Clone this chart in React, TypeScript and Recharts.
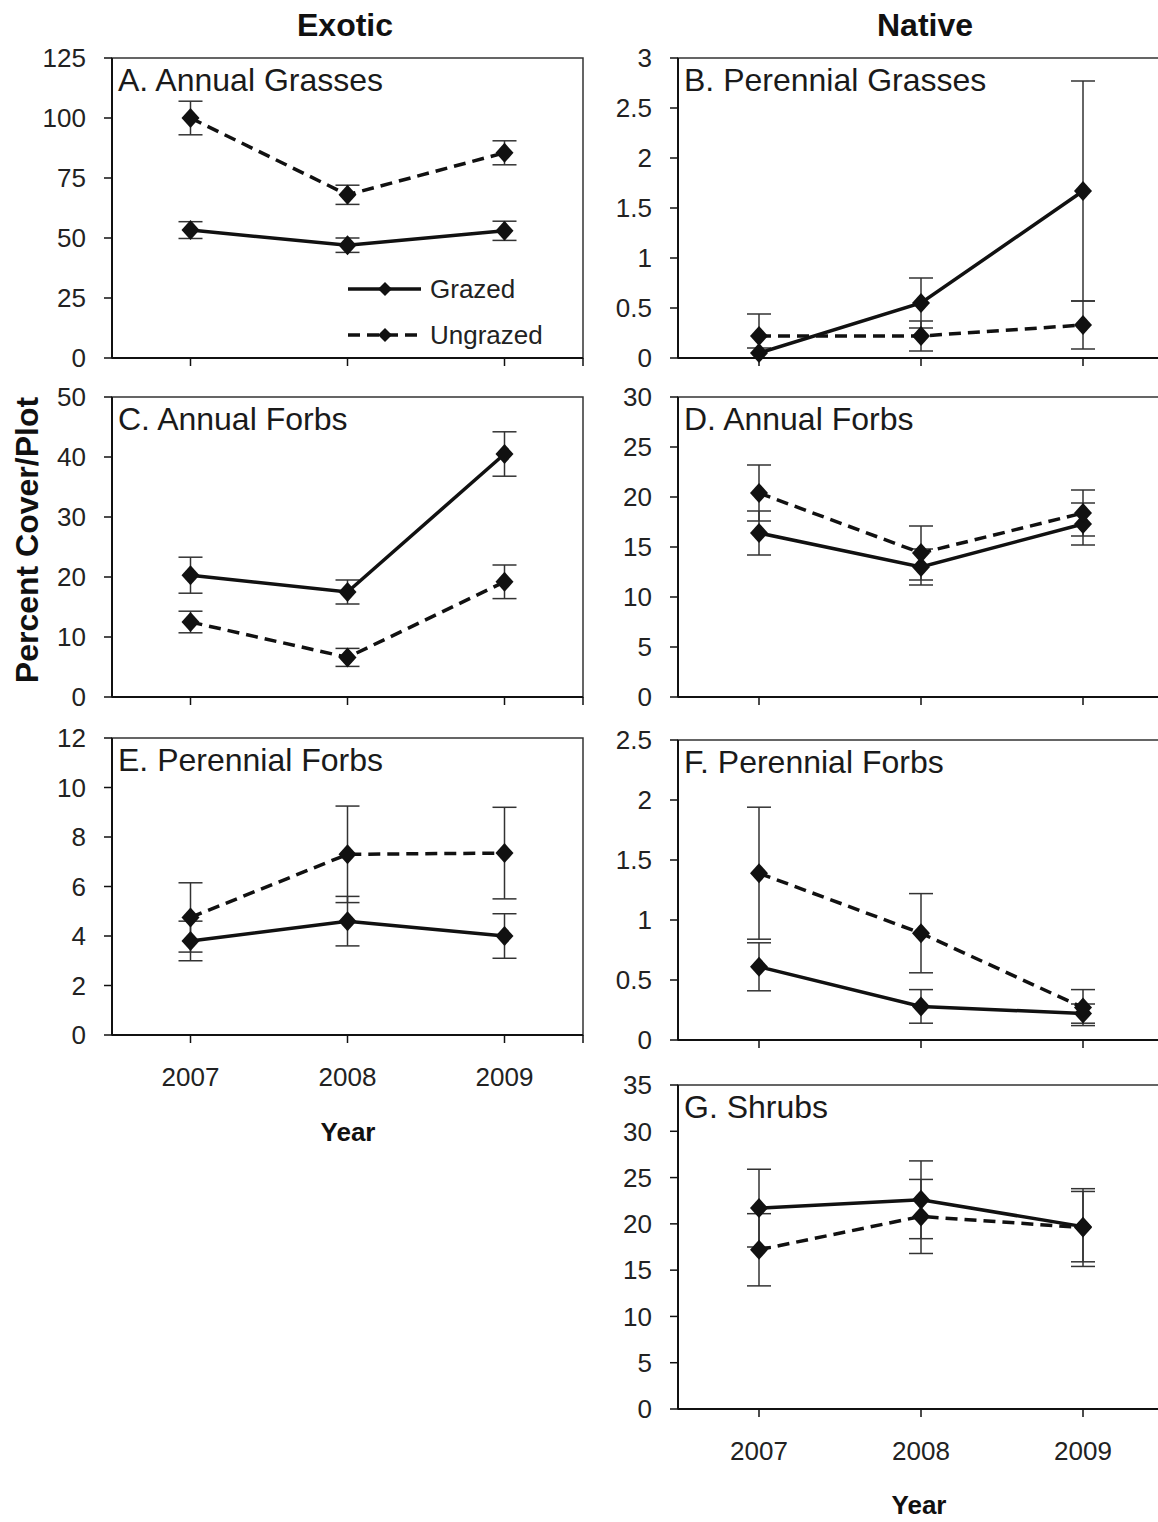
import React from "react";
import { LineChart, Line, XAxis, YAxis, ErrorBar, ReferenceArea, Legend } from "recharts";

const years = [2007, 2008, 2009];
const xTicks = [2007, 2008, 2009, 2009.5];

// A. exotic annual grasses
const grazedA = [53.3, 47, 53];
const grazedAErr = [3.5, 3, 4];
const ungrazedA = [100, 68, 85.5];
const ungrazedAErr = [7, 4, 5];

// B. native perennial grasses
const grazedB = [0.05, 0.55, 1.67];
const grazedBErr = [0.05, 0.25, 1.1];
const ungrazedB = [0.22, 0.22, 0.33];
const ungrazedBErr = [0.22, 0.15, 0.24];

// C. exotic annual forbs
const grazedC = [20.3, 17.5, 40.5];
const grazedCErr = [3, 2, 3.7];
const ungrazedC = [12.5, 6.6, 19.2];
const ungrazedCErr = [1.8, 1.5, 2.8];

// D. native annual forbs
const grazedD = [16.4, 13, 17.3];
const grazedDErr = [2.2, 1.8, 2.1];
const ungrazedD = [20.4, 14.4, 18.4];
const ungrazedDErr = [2.8, 2.7, 2.3];

// E. exotic perennial forbs
const grazedE = [3.8, 4.6, 4.0];
const grazedEErr = [0.8, 1.0, 0.9];
const ungrazedE = [4.75, 7.3, 7.35];
const ungrazedEErr = [1.4, 1.95, 1.85];

// F. native perennial forbs
const grazedF = [0.61, 0.28, 0.22];
const grazedFErr = [0.2, 0.14, 0.08];
const ungrazedF = [1.39, 0.89, 0.27];
const ungrazedFErr = [0.55, 0.33, 0.15];

// G. native shrubs
const grazedG = [21.7, 22.6, 19.7];
const grazedGErr = [4.2, 4.2, 3.8];
const ungrazedG = [17.2, 20.8, 19.6];
const ungrazedGErr = [3.9, 4.0, 4.2];

const ticksA = [0, 25, 50, 75, 100, 125];
const ticksB = [0, 0.5, 1, 1.5, 2, 2.5, 3];
const ticksC = [0, 10, 20, 30, 40, 50];
const ticksD = [0, 5, 10, 15, 20, 25, 30];
const ticksE = [0, 2, 4, 6, 8, 10, 12];
const ticksF = [0, 0.5, 1, 1.5, 2, 2.5];
const ticksG = [0, 5, 10, 15, 20, 25, 30, 35];

const FONT = '"Liberation Sans", Arial, Helvetica, sans-serif';
const INK = "#111";
const DASH = "12 7";

function buildRows(g: number[], ge: number[], u: number[], ue: number[]) {
  return years.map((year, i) => ({
    year,
    grazed: g[i],
    grazedErr: ge[i],
    ungrazed: u[i],
    ungrazedErr: ue[i],
  }));
}

function renderDiamond(p: any) {
  const { cx, cy, index } = p;
  if (cx == null || cy == null) return <g key={`d-${index}`} />;
  return (
    <path
      key={`d-${index}`}
      d={`M${cx},${cy - 10}L${cx + 9},${cy}L${cx},${cy + 10}L${cx - 9},${cy}Z`}
      fill={INK}
    />
  );
}

function KeyContent({ payload }: { payload?: any[] }) {
  const items = payload || [];
  return (
    <svg width={230} height={items.length * 46} style={{ display: "block", overflow: "visible" }}>
      {items.map((entry, i) => {
        const y = 20 + i * 46;
        const dashed = entry.dataKey === "ungrazed";
        return (
          <g key={entry.value}>
            <line x1={0} y1={y} x2={73} y2={y} stroke={INK} strokeWidth={3.5} strokeDasharray={dashed ? DASH : undefined} />
            <path d={`M37,${y - 7}L44,${y}L37,${y + 7}L30,${y}Z`} fill={INK} />
            <text x={82} y={y + 9} fontSize={26} fontFamily={FONT} fill="#222">
              {entry.value}
            </text>
          </g>
        );
      })}
    </svg>
  );
}

type PanelProps = {
  title: string;
  rows: ReturnType<typeof buildRows>;
  yMax: number;
  yTicks: number[];
  left: number;
  top: number;
  plotW: number;
  plotH: number;
  showYears?: boolean;
  showKey?: boolean;
};

function Panel({ title, rows, yMax, yTicks, left, top, plotW, plotH, showYears, showKey }: PanelProps) {
  const padTop = 20;
  const padRight = 10;
  const axisW = 100;
  const axisH = 60;
  const w = axisW + plotW + padRight;
  const h = padTop + plotH + axisH;
  const tickStyle = { fill: "#222", fontSize: 26, fontFamily: FONT };
  return (
    <div style={{ position: "absolute", left: left - axisW, top: top - padTop, width: w, height: h }}>
      <LineChart width={w} height={h} data={rows} margin={{ top: padTop, right: padRight, left: 0, bottom: 0 }}>
        <ReferenceArea x1={2006.5} x2={2009.5} y1={0} y2={yMax} fill="none" stroke="#333" strokeWidth={1.5} />
        <XAxis
          dataKey="year"
          type="number"
          domain={[2006.5, 2009.5]}
          ticks={xTicks}
          interval={0}
          height={axisH}
          tickFormatter={(v: number) => (showYears && Number.isInteger(v) ? String(v) : "")}
          axisLine={{ stroke: INK, strokeWidth: 2 }}
          tickLine={{ stroke: INK, strokeWidth: 1.5 }}
          tickSize={8}
          tickMargin={25}
          tick={tickStyle}
        />
        <YAxis
          type="number"
          domain={[0, yMax]}
          ticks={yTicks}
          interval={0}
          width={axisW}
          axisLine={{ stroke: INK, strokeWidth: 2 }}
          tickLine={{ stroke: INK, strokeWidth: 1.5 }}
          tickSize={8}
          tickMargin={18}
          tick={tickStyle}
        />
        <Line
          type="linear"
          dataKey="grazed"
          name="Grazed"
          stroke={INK}
          strokeWidth={3.5}
          dot={renderDiamond}
          activeDot={false}
          isAnimationActive={false}
        >
          <ErrorBar dataKey="grazedErr" direction="y" width={12} stroke="#333" strokeWidth={1.5} isAnimationActive={false} />
        </Line>
        <Line
          type="linear"
          dataKey="ungrazed"
          name="Ungrazed"
          stroke={INK}
          strokeWidth={3.5}
          strokeDasharray={DASH}
          dot={renderDiamond}
          activeDot={false}
          isAnimationActive={false}
        >
          <ErrorBar dataKey="ungrazedErr" direction="y" width={12} stroke="#333" strokeWidth={1.5} isAnimationActive={false} />
        </Line>
        {showKey && (
          <Legend
            layout="vertical"
            align="center"
            verticalAlign="middle"
            content={(props: any) => <KeyContent payload={props.payload} />}
            wrapperStyle={{ left: 336, top: 231, width: 230 }}
          />
        )}
      </LineChart>
      <div
        style={{
          position: "absolute",
          left: axisW + 6,
          top: padTop + 22 - 16,
          fontSize: 32,
          lineHeight: "32px",
          fontFamily: FONT,
          color: "#1a1a1a",
          whiteSpace: "nowrap",
        }}
      >
        {title}
      </div>
    </div>
  );
}

function Caption({ text, cx, cy, size }: { text: string; cx: number; cy: number; size: number }) {
  return (
    <div
      style={{
        position: "absolute",
        left: cx - 150,
        top: cy - size / 2,
        width: 300,
        lineHeight: `${size}px`,
        fontSize: size,
        fontWeight: "bold",
        textAlign: "center",
        fontFamily: FONT,
        color: "#111",
      }}
    >
      {text}
    </div>
  );
}

export default function App() {
  const L = 112;
  const R = 678;
  const LW = 471;
  const RW = 486;
  return (
    <div
      style={{
        position: "absolute",
        left: 0,
        top: 0,
        width: 1158,
        height: 1522,
        overflow: "hidden",
        background: "#fff",
        fontFamily: FONT,
      }}
    >
      <Caption text="Exotic" cx={345} cy={25} size={32} />
      <Caption text="Native" cx={925} cy={25} size={32} />

      <Panel title="A. Annual Grasses" rows={buildRows(grazedA, grazedAErr, ungrazedA, ungrazedAErr)}
        yMax={125} yTicks={ticksA} left={L} top={58} plotW={LW} plotH={300} showKey />
      <Panel title="C. Annual Forbs" rows={buildRows(grazedC, grazedCErr, ungrazedC, ungrazedCErr)}
        yMax={50} yTicks={ticksC} left={L} top={397} plotW={LW} plotH={300} />
      <Panel title="E. Perennial Forbs" rows={buildRows(grazedE, grazedEErr, ungrazedE, ungrazedEErr)}
        yMax={12} yTicks={ticksE} left={L} top={738} plotW={LW} plotH={297} showYears />

      <Panel title="B. Perennial Grasses" rows={buildRows(grazedB, grazedBErr, ungrazedB, ungrazedBErr)}
        yMax={3} yTicks={ticksB} left={R} top={58} plotW={RW} plotH={300} />
      <Panel title="D. Annual Forbs" rows={buildRows(grazedD, grazedDErr, ungrazedD, ungrazedDErr)}
        yMax={30} yTicks={ticksD} left={R} top={397} plotW={RW} plotH={300} />
      <Panel title="F. Perennial Forbs" rows={buildRows(grazedF, grazedFErr, ungrazedF, ungrazedFErr)}
        yMax={2.5} yTicks={ticksF} left={R} top={740} plotW={RW} plotH={300} />
      <Panel title="G. Shrubs" rows={buildRows(grazedG, grazedGErr, ungrazedG, ungrazedGErr)}
        yMax={35} yTicks={ticksG} left={R} top={1085} plotW={RW} plotH={324} showYears />

      <Caption text="Year" cx={348} cy={1132} size={26} />
      <Caption text="Year" cx={919} cy={1505} size={26} />

      <div
        style={{
          position: "absolute",
          left: 27 - 200,
          top: 540 - 18,
          width: 400,
          height: 36,
          lineHeight: "36px",
          fontSize: 32,
          fontWeight: "bold",
          textAlign: "center",
          fontFamily: FONT,
          color: "#111",
          transform: "rotate(-90deg)",
        }}
      >
        Percent Cover/Plot
      </div>
    </div>
  );
}
